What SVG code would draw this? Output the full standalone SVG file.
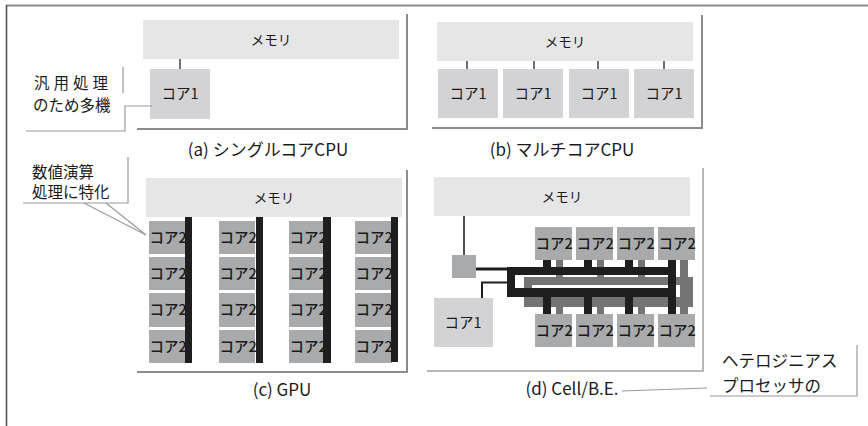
<svg xmlns="http://www.w3.org/2000/svg" width="868" height="426" viewBox="0 0 868 426">
<style>
text{font-family:"Noto Sans CJK JP","Noto Sans",sans-serif;fill:#1a1a1a}
.mem{fill:#e6e6e7}
.c1{fill:#d3d3d5}
.c2{fill:#a9aaac}
.frame{fill:none;stroke:#8c8c8c;stroke-width:2}
.frame2{fill:none;stroke:#a0a0a0;stroke-width:1.5}
.call{fill:none;stroke:#9a9a9a;stroke-width:1.2}
.thin{stroke:#222;stroke-width:1.3;fill:none}
.tm{font-size:13.5px;text-anchor:middle}
.tc1{font-size:14.5px;text-anchor:middle}
.tc2{font-size:14.5px;font-weight:500}
.cap{font-size:17px;text-anchor:middle}
.co{font-size:15.5px}
.bk{fill:#1e1e1e}
.gy{fill:#747474}
</style>

<!-- outer frame -->
<g id="outer">
<line x1="6" y1="5.5" x2="868" y2="5.5" stroke="#8a8a8a" stroke-width="2"/>
<line x1="6.5" y1="5" x2="6.5" y2="426" stroke="#555" stroke-width="1.6"/>
</g>

<!-- panel frames -->
<g id="frames">
<polyline class="frame" points="407,14 407,129 137,129"/>
<polyline class="frame" points="702,15 702,128 432,128"/>
<polyline class="frame" points="407,170 407,372 137,372"/>
<polyline class="frame2" points="703,168 703,371 427,371"/>
</g>

<!-- (a) -->
<g id="a-mem"><rect class="mem" x="143" y="20" width="256" height="39"/><text class="tm" x="271" y="45">メモリ</text></g>
<g id="a-core1"><rect class="c1" x="150" y="69" width="60" height="50"/><text class="tc1" x="180" y="99">コア1</text></g>
<g id="a-cap"><text class="cap" x="268" y="156">(a) シングルコアCPU</text></g>

<!-- (b) -->
<g id="b-mem"><rect class="mem" x="437" y="22" width="256" height="39"/><text class="tm" x="565" y="47">メモリ</text></g>
<g id="b-core1-1"><rect class="c1" x="438" y="69" width="60" height="49"/><text class="tc1" x="468" y="99">コア1</text></g>
<g id="b-core1-2"><rect class="c1" x="503" y="69" width="60" height="49"/><text class="tc1" x="533" y="99">コア1</text></g>
<g id="b-core1-3"><rect class="c1" x="569" y="69" width="60" height="49"/><text class="tc1" x="599" y="99">コア1</text></g>
<g id="b-core1-4"><rect class="c1" x="634" y="69" width="60" height="49"/><text class="tc1" x="664" y="99">コア1</text></g>
<g id="b-cap"><text class="cap" x="562" y="156">(b) マルチコアCPU</text></g>

<!-- (c) -->
<g id="c-mem"><rect class="mem" x="146" y="178" width="256" height="39"/><text class="tm" x="274" y="203">メモリ</text></g>
<g id="c-cores">
<g id="c-col1">
<rect class="c2" x="149" y="221" width="36" height="33"/><text class="tc2" x="149.5" y="243">コア2</text>
<rect class="c2" x="149" y="257" width="36" height="33"/><text class="tc2" x="149.5" y="279">コア2</text>
<rect class="c2" x="149" y="293" width="36" height="34"/><text class="tc2" x="149.5" y="315">コア2</text>
<rect class="c2" x="149" y="330" width="36" height="33"/><text class="tc2" x="149.5" y="352">コア2</text>
<rect class="bk" x="185" y="217" width="7" height="146"/>
</g>
<g id="c-col2">
<rect class="c2" x="219" y="221" width="36" height="33"/><text class="tc2" x="219.5" y="243">コア2</text>
<rect class="c2" x="219" y="257" width="36" height="33"/><text class="tc2" x="219.5" y="279">コア2</text>
<rect class="c2" x="219" y="293" width="36" height="34"/><text class="tc2" x="219.5" y="315">コア2</text>
<rect class="c2" x="219" y="330" width="36" height="33"/><text class="tc2" x="219.5" y="352">コア2</text>
<rect class="bk" x="256" y="217" width="7" height="146"/>
</g>
<g id="c-col3">
<rect class="c2" x="289" y="221" width="35" height="33"/><text class="tc2" x="289.5" y="243">コア2</text>
<rect class="c2" x="289" y="257" width="35" height="33"/><text class="tc2" x="289.5" y="279">コア2</text>
<rect class="c2" x="289" y="293" width="35" height="34"/><text class="tc2" x="289.5" y="315">コア2</text>
<rect class="c2" x="289" y="330" width="35" height="33"/><text class="tc2" x="289.5" y="352">コア2</text>
<rect class="bk" x="323" y="217" width="8" height="146"/>
</g>
<g id="c-col4">
<rect class="c2" x="355" y="221" width="36" height="33"/><text class="tc2" x="355.5" y="243">コア2</text>
<rect class="c2" x="355" y="257" width="36" height="33"/><text class="tc2" x="355.5" y="279">コア2</text>
<rect class="c2" x="355" y="293" width="36" height="34"/><text class="tc2" x="355.5" y="315">コア2</text>
<rect class="c2" x="355" y="330" width="37" height="33"/><text class="tc2" x="355.5" y="352">コア2</text>
<rect class="bk" x="391" y="217" width="7" height="145"/>
</g>
</g>
<g id="c-cap"><text class="cap" x="282" y="396">(c) GPU</text></g>

<!-- (d) -->
<g id="d-mem"><rect class="mem" x="434" y="177" width="256" height="39"/><text class="tm" x="562" y="202">メモリ</text></g>
<g id="d-hub"><rect class="c2" x="452" y="255" width="24" height="23"/></g>
<g id="d-core1"><rect class="c1" x="434" y="298" width="59" height="49"/><text class="tc1" x="463" y="328">コア1</text></g>

<!-- connectors -->
<g id="connectors">
<g class="thin">
<line x1="180" y1="59" x2="180" y2="69"/>
<line x1="467" y1="61" x2="467" y2="69"/>
<line x1="534" y1="61" x2="534" y2="69"/>
<line x1="598" y1="61" x2="598" y2="69"/>
<line x1="664" y1="61" x2="664" y2="69"/>
<line x1="464" y1="216" x2="464" y2="255" stroke-width="1.6"/>
</g>
<!-- Cell bus: gray ring -->
<g id="d-ring">
<path class="gy" fill-rule="evenodd" d="M524,277 H693 V307 H524 Z M532,285 V297 H685 V285 Z"/>
<rect class="gy" x="556" y="260" width="7" height="17"/>
<rect class="gy" x="597" y="260" width="7" height="17"/>
<rect class="gy" x="638" y="260" width="7" height="17"/>
<rect class="gy" x="680" y="260" width="8" height="54"/>
<rect class="gy" x="556" y="306" width="7" height="8"/>
<rect class="gy" x="597" y="306" width="7" height="8"/>
<rect class="gy" x="638" y="306" width="7" height="8"/>
</g>
<g id="d-black">
<rect class="bk" x="507" y="267" width="169" height="8"/>
<rect class="bk" x="507" y="267" width="8" height="30"/>
<rect class="bk" x="507" y="288" width="169" height="9"/>
<rect class="bk" x="668" y="260" width="8" height="54"/>
<rect class="bk" x="543" y="260" width="8" height="7"/>
<rect class="bk" x="584" y="260" width="8" height="7"/>
<rect class="bk" x="625" y="260" width="8" height="7"/>
<rect class="bk" x="543" y="296" width="8" height="18"/>
<rect class="bk" x="584" y="296" width="8" height="18"/>
<rect class="bk" x="625" y="296" width="8" height="18"/>
<line x1="476" y1="269" x2="508" y2="269" stroke="#1e1e1e" stroke-width="3"/>
<polyline points="482,298 482,282.5 508,282.5" fill="none" stroke="#1e1e1e" stroke-width="2"/>
</g>
</g>

<g id="d-cores">
<g id="d-core2-t1"><rect class="c2" x="535" y="227" width="37" height="33"/><text class="tc2" x="535.5" y="249">コア2</text></g>
<g id="d-core2-t2"><rect class="c2" x="576" y="227" width="37" height="33"/><text class="tc2" x="576.5" y="249">コア2</text></g>
<g id="d-core2-t3"><rect class="c2" x="617" y="227" width="37" height="33"/><text class="tc2" x="617.5" y="249">コア2</text></g>
<g id="d-core2-t4"><rect class="c2" x="658" y="227" width="37" height="33"/><text class="tc2" x="658.5" y="249">コア2</text></g>
<g id="d-core2-b1"><rect class="c2" x="535" y="314" width="37" height="33"/><text class="tc2" x="535.5" y="336">コア2</text></g>
<g id="d-core2-b2"><rect class="c2" x="576" y="314" width="37" height="33"/><text class="tc2" x="576.5" y="336">コア2</text></g>
<g id="d-core2-b3"><rect class="c2" x="617" y="314" width="37" height="33"/><text class="tc2" x="617.5" y="336">コア2</text></g>
<g id="d-core2-b4"><rect class="c2" x="658" y="314" width="37" height="33"/><text class="tc2" x="658.5" y="336">コア2</text></g>
</g>
<g id="d-cap"><text class="cap" x="572" y="395">(d) Cell/B.E.</text></g>

<!-- callouts -->
<g id="callout-a">
<path class="call" d="M123,67 V93 M26,131 H125 V106 H152"/>
<text class="co" x="34" y="89" letter-spacing="4">汎用処理</text>
<text class="co" x="33" y="110.5">のため多機</text>
</g>
<g id="callout-c">
<path class="call" d="M128,157 V203 H23 M84,203 L146,235 L106,203"/>
<text class="co" x="32" y="178">数値演算</text>
<text class="co" x="32" y="198">処理に特化</text>
</g>
<g id="callout-d">
<path class="call" d="M857,345 V396 H710 M622,391 L707,388"/>
<text class="co" x="722" y="367" style="font-size:16.5px">ヘテロジニアス</text>
<text class="co" x="722" y="392" style="font-size:16.5px">プロセッサの</text>
</g>
</svg>
